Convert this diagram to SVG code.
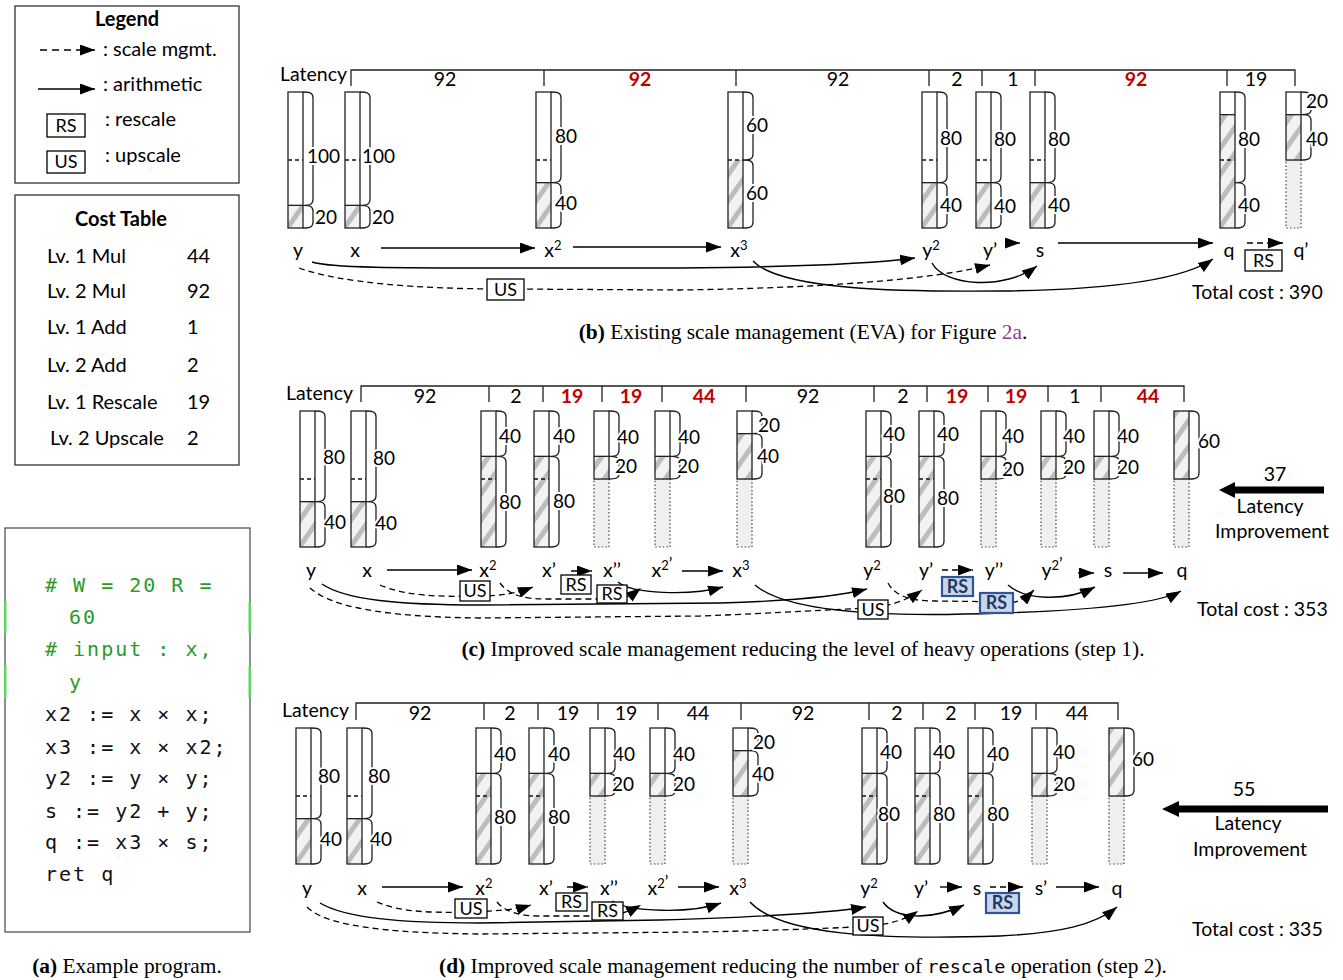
<svg xmlns="http://www.w3.org/2000/svg" xmlns:xlink="http://www.w3.org/1999/xlink" width="1343" height="980" viewBox="0 0 1343 980">
<style>
.t{font-family:Lato,'Open Sans','Liberation Sans',sans-serif;font-size:19.5px;fill:#000}
.lg{font-size:20px}
.n{font-family:Lato,'Open Sans','Liberation Sans',sans-serif;font-size:19px;fill:#000;stroke:#fff;stroke-width:4px;paint-order:stroke;stroke-linejoin:round}
.red{fill:#c00000;font-weight:bold}
.b{font-weight:bold}
.cap{font-family:'Liberation Serif','DejaVu Serif',serif;font-size:21.4px;fill:#000}
.mono{font-family:'DejaVu Sans Mono','Liberation Mono',monospace;font-size:20px;letter-spacing:2px;fill:#111}
.grn{fill:#2a9a2a}
.frame{fill:#fff;stroke:#333;stroke-width:1.3}
.ol{fill:none;stroke:#222;stroke-width:1.3}
.dl{fill:none;stroke:#111;stroke-width:1.3;stroke-dasharray:4 3}
.gr{fill:#efefef;stroke:#444;stroke-width:1.2;stroke-dasharray:1.5 2.2}
.br{fill:none;stroke:#222;stroke-width:1.3}
.ru{fill:none;stroke:#222;stroke-width:1.3}
.sol{fill:none;stroke:#000;stroke-width:1.4}
.dsh{fill:none;stroke:#000;stroke-width:1.3;stroke-dasharray:6 4}
.bx{fill:#fff;stroke:#000;stroke-width:1.3}
.bxb{fill:#c9d6ea;stroke:#2f5597;stroke-width:2.2}
.bt{font-family:Lato,'Open Sans','Liberation Sans',sans-serif;font-size:18px;fill:#000;text-anchor:middle}
.btb{font-family:Lato,'Open Sans','Liberation Sans',sans-serif;font-size:18px;fill:#1f3864;font-weight:bold;text-anchor:middle}
.mid{text-anchor:middle}
</style>
<defs>
<pattern id="hatch" patternUnits="userSpaceOnUse" width="15" height="15" patternTransform="rotate(35)">
<rect width="15" height="15" fill="#f2f2f2"/>
<rect width="5" height="15" fill="#bdbdbd"/>
</pattern>
<marker id="ah" viewBox="0 0 15 11" refX="15" refY="5.5" markerWidth="15" markerHeight="11" markerUnits="userSpaceOnUse" orient="auto">
<path d="M0,0 L15,5.5 L0,11 z" fill="#000"/>
</marker>
<g id="sA">
<rect x="0" y="113.33" width="15" height="22.67" fill="url(#hatch)"/>
<line x1="0" y1="68" x2="15" y2="68" class="dl"/>
<rect x="0" y="0" width="15" height="136" class="ol"/>
<line x1="0" y1="113.33" x2="15" y2="113.33" class="ol"/>
<path class="br" d="M15,0 C22,0 25,1 25,6 V107.33 C25,112.33 22,113.33 15,113.33 C22,113.33 25,114.33 25,119.33 V130 C25,135 22,136 15,136"/>
</g>
<g id="sB">
<rect x="0" y="90.67" width="15" height="45.33" fill="url(#hatch)"/>
<line x1="0" y1="68" x2="15" y2="68" class="dl"/>
<rect x="0" y="0" width="15" height="136" class="ol"/>
<line x1="0" y1="90.67" x2="15" y2="90.67" class="ol"/>
<path class="br" d="M15,0 C22,0 25,1 25,6 V84.67 C25,89.67 22,90.67 15,90.67 C22,90.67 25,91.67 25,96.67 V130 C25,135 22,136 15,136"/>
</g>
<g id="sC">
<rect x="0" y="68" width="15" height="68" fill="url(#hatch)"/>
<rect x="0" y="0" width="15" height="136" class="ol"/>
<line x1="0" y1="68" x2="15" y2="68" class="dl"/>
<path class="br" d="M15,0 C22,0 25,1 25,6 V62 C25,67 22,68 15,68 C22,68 25,69 25,74 V130 C25,135 22,136 15,136"/>
</g>
<g id="sD">
<rect x="0" y="22.67" width="15" height="113.33" fill="url(#hatch)"/>
<line x1="0" y1="68" x2="15" y2="68" class="dl"/>
<rect x="0" y="0" width="15" height="136" class="ol"/>
<line x1="0" y1="22.67" x2="15" y2="22.67" class="ol"/>
<path class="br" d="M15,0 C22,0 25,1 25,6 V84.67 C25,89.67 22,90.67 15,90.67 C22,90.67 25,91.67 25,96.67 V130 C25,135 22,136 15,136"/>
</g>
<g id="sE">
<rect x="0" y="68" width="15" height="68" class="gr"/>
<rect x="0" y="22.67" width="15" height="45.33" fill="url(#hatch)"/>
<rect x="0" y="0" width="15" height="68" class="ol"/>
<line x1="0" y1="22.67" x2="15" y2="22.67" class="ol"/>
<path class="br" d="M15,0 C22,0 25,1 25,5 V17.67 C25,21.67 22,22.67 15,22.67 C22,22.67 25,23.67 25,28.67 V62 C25,67 22,68 15,68"/>
</g>
<g id="sG">
<rect x="0" y="45.33" width="15" height="90.67" fill="url(#hatch)"/>
<line x1="0" y1="68" x2="15" y2="68" class="dl"/>
<rect x="0" y="0" width="15" height="136" class="ol"/>
<line x1="0" y1="45.33" x2="15" y2="45.33" class="ol"/>
<path class="br" d="M15,0 C22,0 25,1 25,6 V39.33 C25,44.33 22,45.33 15,45.33 C22,45.33 25,46.33 25,51.33 V130 C25,135 22,136 15,136"/>
</g>
<g id="sH">
<rect x="0" y="68" width="15" height="68" class="gr"/>
<rect x="0" y="45.33" width="15" height="22.67" fill="url(#hatch)"/>
<rect x="0" y="0" width="15" height="68" class="ol"/>
<line x1="0" y1="45.33" x2="15" y2="45.33" class="ol"/>
<path class="br" d="M15,0 C22,0 25,1 25,6 V39.33 C25,44.33 22,45.33 15,45.33 C22,45.33 25,46.33 25,50.33 V63 C25,67 22,68 15,68"/>
</g>
<g id="sJ">
<rect x="0" y="68" width="15" height="68" class="gr"/>
<rect x="0" y="0" width="15" height="68" fill="url(#hatch)"/>
<rect x="0" y="0" width="15" height="68" class="ol"/>
<path class="br" d="M15,0 C22,0 25,1 25,6 V62 C25,67 22,68 15,68"/>
</g>
</defs>
<rect width="1343" height="980" fill="#fff"/>

<!-- Legend -->
<g id="legend">
<rect class="frame" x="15" y="6" width="224" height="177"/>
<text class="t lg b mid" x="127" y="26">Legend</text>
<line class="dsh" x1="40" y1="50" x2="95" y2="50" marker-end="url(#ah)" style="stroke-dasharray:7 5"/>
<text class="t lg" x="103" y="56">: scale mgmt.</text>
<line class="sol" x1="38" y1="89" x2="95" y2="89" marker-end="url(#ah)"/>
<text class="t lg" x="103" y="91">: arithmetic</text>
<rect class="bx" x="47" y="114" width="38" height="23"/>
<text class="bt" x="66" y="132">RS</text>
<text class="t lg" x="105" y="126">: rescale</text>
<rect class="bx" x="47" y="151" width="38" height="22"/>
<text class="bt" x="66" y="168">US</text>
<text class="t lg" x="105" y="162">: upscale</text>
</g>

<!-- Cost table -->
<g id="cost-table">
<rect class="frame" x="15" y="195" width="224" height="270"/>
<text class="t lg b mid" x="121" y="226">Cost Table</text>
<text class="t lg" x="47" y="263">Lv. 1 Mul</text><text class="t lg" x="187" y="263">44</text>
<text class="t lg" x="47" y="298">Lv. 2 Mul</text><text class="t lg" x="187" y="298">92</text>
<text class="t lg" x="47" y="334">Lv. 1 Add</text><text class="t lg" x="187" y="334">1</text>
<text class="t lg" x="47" y="372">Lv. 2 Add</text><text class="t lg" x="187" y="372">2</text>
<text class="t lg" x="47" y="409">Lv. 1 Rescale</text><text class="t lg" x="187" y="409">19</text>
<text class="t lg" x="50" y="445">Lv. 2 Upscale</text><text class="t lg" x="187" y="445">2</text>
</g>

<!-- Code -->
<g id="code">
<rect class="frame" x="5" y="528" width="245" height="404" style="stroke:#555"/>
<rect x="4" y="602" width="2.5" height="31" fill="#5cd65c"/>
<rect x="248.5" y="602" width="2.5" height="31" fill="#5cd65c"/>
<rect x="4" y="666" width="2.5" height="32" fill="#5cd65c"/>
<rect x="248.5" y="666" width="2.5" height="32" fill="#5cd65c"/>
<text class="mono grn" x="45" y="592">#&#160;W&#160;=&#160;20&#160;R&#160;=</text>
<text class="mono grn" x="69" y="624">60</text>
<text class="mono grn" x="45" y="656">#&#160;input&#160;:&#160;x,</text>
<text class="mono grn" x="69" y="689">y</text>
<text class="mono" x="45" y="721">x2&#160;:=&#160;x&#160;×&#160;x;</text>
<text class="mono" x="45" y="754">x3&#160;:=&#160;x&#160;×&#160;x2;</text>
<text class="mono" x="45" y="785">y2&#160;:=&#160;y&#160;×&#160;y;</text>
<text class="mono" x="45" y="818">s&#160;:=&#160;y2&#160;+&#160;y;</text>
<text class="mono" x="45" y="849">q&#160;:=&#160;x3&#160;×&#160;s;</text>
<text class="mono" x="45" y="881">ret&#160;q</text>
<text class="cap mid" x="127" y="973"><tspan font-weight="bold">(a)</tspan> Example program.</text>
</g>

<!-- Panel b -->
<g id="panel-b">
<g id="b-ruler">
<text class="t" x="280" y="81">Latency</text>
<path class="ru" d="M351,86 V70 H1295 V86 M544,70 V86 M736,70 V86 M929,70 V86 M982,70 V86 M1035,70 V86 M1227,70 V86"/>
<text class="t mid" x="445" y="86">92</text>
<text class="t mid red" x="640" y="86">92</text>
<text class="t mid" x="838" y="86">92</text>
<text class="t mid" x="957" y="86">2</text>
<text class="t mid" x="1013" y="86">1</text>
<text class="t mid red" x="1136" y="86">92</text>
<text class="t mid" x="1256" y="86">19</text>
</g>
<g id="b-y"><use href="#sA" x="288" y="92"/><text class="n" x="307" y="163">100</text><text class="n" x="315" y="224">20</text><text class="t mid" x="298" y="257">y</text></g>
<g id="b-x"><use href="#sA" x="345" y="92"/><text class="n" x="362" y="163">100</text><text class="n" x="372" y="224">20</text><text class="t mid" x="355" y="257">x</text></g>
<g id="b-x2"><use href="#sB" x="536" y="92"/><text class="n" x="555" y="143">80</text><text class="n" x="555" y="210">40</text><text class="t mid" x="553" y="257">x<tspan dy="-7" font-size="13">2</tspan></text></g>
<g id="b-x3"><use href="#sC" x="728" y="92"/><text class="n" x="746" y="132">60</text><text class="n" x="746" y="200">60</text><text class="t mid" x="739" y="257">x<tspan dy="-7" font-size="13">3</tspan></text></g>
<g id="b-y2"><use href="#sB" x="922" y="92"/><text class="n" x="940" y="145">80</text><text class="n" x="940" y="212">40</text><text class="t mid" x="931" y="257">y<tspan dy="-7" font-size="13">2</tspan></text></g>
<g id="b-y1"><use href="#sB" x="976" y="92"/><text class="n" x="994" y="146">80</text><text class="n" x="994" y="213">40</text><text class="t mid" x="990" y="257">y’</text></g>
<g id="b-s"><use href="#sB" x="1030" y="92"/><text class="n" x="1048" y="146">80</text><text class="n" x="1048" y="212">40</text><text class="t mid" x="1040" y="257">s</text></g>
<g id="b-q"><use href="#sD" x="1220" y="92"/><text class="n" x="1238" y="146">80</text><text class="n" x="1238" y="212">40</text><text class="t mid" x="1229" y="257">q</text></g>
<g id="b-q1"><use href="#sE" x="1286" y="92"/><text class="n" x="1306" y="108">20</text><text class="n" x="1306" y="146">40</text><text class="t mid" x="1301" y="257">q’</text></g>
<g id="b-connectors">
<path class="sol" d="M381,248 H535" marker-end="url(#ah)"/>
<path class="sol" d="M573,247 H721" marker-end="url(#ah)"/>
<path class="sol" d="M1005,243 H1020" marker-end="url(#ah)"/>
<path class="sol" d="M1058,243 H1213" marker-end="url(#ah)"/>
<path class="dsh" d="M1247,243 H1283" marker-end="url(#ah)"/>
<path class="sol" d="M312,262 C330,268 400,268 500,268 L680,268 C800,267 870,264 915,258" marker-end="url(#ah)"/>
<path class="dsh" d="M299,268 C340,283 420,289 505,289 L680,290 C820,288 930,280 990,265" marker-end="url(#ah)"/>
<path class="sol" d="M932,263 C945,287 1005,290 1037,266" marker-end="url(#ah)"/>
<path class="sol" d="M753,261 C780,290 900,292 1000,291 C1100,290 1180,282 1213,259" marker-end="url(#ah)"/>
<rect class="bx" x="487" y="279" width="37" height="21"/><text class="bt" x="505.5" y="296">US</text>
<rect class="bx" x="1245" y="250" width="37" height="21"/><text class="bt" x="1263.5" y="267">RS</text>
</g>
<text class="t" x="1192" y="299">Total cost : 390</text>
<text class="cap mid" x="803" y="339"><tspan font-weight="bold">(b)</tspan> Existing scale management (EVA) for Figure <tspan fill="#8e3a9d">2a</tspan>.</text>
</g>

<!-- Panel c -->
<g id="panel-c">
<g id="c-ruler">
<text class="t" x="286" y="400">Latency</text>
<path class="ru" d="M361,402 V386 H1184 V402 M489,386 V402 M543,386 V402 M602,386 V402 M662,386 V402 M746,386 V402 M874,386 V402 M927,386 V402 M988,386 V402 M1048,386 V402 M1101,386 V402"/>
<text class="t mid" x="425" y="403">92</text>
<text class="t mid" x="516" y="403">2</text>
<text class="t mid red" x="572" y="403">19</text>
<text class="t mid red" x="631" y="403">19</text>
<text class="t mid red" x="704" y="403">44</text>
<text class="t mid" x="808" y="403">92</text>
<text class="t mid" x="903" y="403">2</text>
<text class="t mid red" x="957" y="403">19</text>
<text class="t mid red" x="1016" y="403">19</text>
<text class="t mid" x="1075" y="403">1</text>
<text class="t mid red" x="1148" y="403">44</text>
</g>
<g id="c-y"><use href="#sB" x="300" y="411"/><text class="n" x="323" y="464">80</text><text class="n" x="324" y="529">40</text><text class="t mid" x="311" y="577">y</text></g>
<g id="c-x"><use href="#sB" x="351" y="411"/><text class="n" x="373" y="465">80</text><text class="n" x="375" y="530">40</text><text class="t mid" x="367" y="577">x</text></g>
<g id="c-x2"><use href="#sG" x="481" y="411"/><text class="n" x="499" y="443">40</text><text class="n" x="499" y="509">80</text><text class="t mid" x="488" y="577">x<tspan dy="-7" font-size="13">2</tspan></text></g>
<g id="c-x1"><use href="#sG" x="534" y="411"/><text class="n" x="553" y="443">40</text><text class="n" x="553" y="508">80</text><text class="t mid" x="549" y="577">x’</text></g>
<g id="c-x11"><use href="#sH" x="594" y="411"/><text class="n" x="617" y="444">40</text><text class="n" x="615" y="473">20</text><text class="t mid" x="612" y="577">x’’</text></g>
<g id="c-x21"><use href="#sH" x="655" y="411"/><text class="n" x="678" y="444">40</text><text class="n" x="677" y="473">20</text><text class="t mid" x="662" y="577">x<tspan dy="-7" font-size="13">2</tspan><tspan font-size="17">’</tspan></text></g>
<g id="c-x3"><use href="#sE" x="737" y="411"/><text class="n" x="758" y="432">20</text><text class="n" x="757" y="463">40</text><text class="t mid" x="741" y="577">x<tspan dy="-7" font-size="13">3</tspan></text></g>
<g id="c-y2"><use href="#sG" x="866" y="411"/><text class="n" x="883" y="441">40</text><text class="n" x="883" y="503">80</text><text class="t mid" x="872" y="577">y<tspan dy="-7" font-size="13">2</tspan></text></g>
<g id="c-y1"><use href="#sG" x="919" y="411"/><text class="n" x="937" y="441">40</text><text class="n" x="937" y="505">80</text><text class="t mid" x="926" y="577">y’</text></g>
<g id="c-y11"><use href="#sH" x="981" y="411"/><text class="n" x="1002" y="443">40</text><text class="n" x="1002" y="476">20</text><text class="t mid" x="994" y="577">y’’</text></g>
<g id="c-y21"><use href="#sH" x="1041" y="411"/><text class="n" x="1063" y="443">40</text><text class="n" x="1063" y="474">20</text><text class="t mid" x="1052" y="577">y<tspan dy="-7" font-size="13">2</tspan><tspan font-size="17">’</tspan></text></g>
<g id="c-s"><use href="#sH" x="1094" y="411"/><text class="n" x="1117" y="443">40</text><text class="n" x="1117" y="474">20</text><text class="t mid" x="1108" y="577">s</text></g>
<g id="c-q"><use href="#sJ" x="1174" y="411"/><text class="n" x="1198" y="448">60</text><text class="t mid" x="1182" y="577">q</text></g>
<g id="c-connectors">
<path class="sol" d="M387,570 H472" marker-end="url(#ah)"/>
<path class="dsh" d="M571,571 H592" marker-end="url(#ah)"/>
<path class="sol" d="M682,571 H723" marker-end="url(#ah)"/>
<path class="dsh" d="M942,570 H973" marker-end="url(#ah)"/>
<path class="sol" d="M1078,573 H1094" marker-end="url(#ah)"/>
<path class="sol" d="M1123,573 H1163" marker-end="url(#ah)"/>
<path class="dsh" d="M380,585 C405,596 440,597 475,596 C500,596 515,594 533,587" marker-end="url(#ah)"/>
<path class="dsh" d="M500,583 C508,594 522,599 545,599 L612,599 C625,599 632,595 641,588" marker-end="url(#ah)"/>
<path class="sol" d="M618,582 C632,594 690,596 723,587" marker-end="url(#ah)"/>
<path class="sol" d="M322,584 C345,600 400,605 480,605 L720,603 C790,601 840,596 867,589" marker-end="url(#ah)"/>
<path class="dsh" d="M310,588 C330,606 380,617 480,618 L700,616 C780,613 840,609 870,608 C890,606 908,600 922,590" marker-end="url(#ah)"/>
<path class="dsh" d="M888,583 C895,596 910,601 935,601 L1015,602 C1022,600 1028,596 1034,590" marker-end="url(#ah)"/>
<path class="sol" d="M1008,585 C1025,600 1065,602 1095,587" marker-end="url(#ah)"/>
<path class="sol" d="M755,585 C790,615 900,617 1000,613 C1100,610 1160,603 1181,591" marker-end="url(#ah)"/>
<rect class="bx" x="460" y="581" width="30" height="20"/><text class="bt" x="475" y="597">US</text>
<rect class="bx" x="561" y="575" width="30" height="19"/><text class="bt" x="576" y="591">RS</text>
<rect class="bx" x="597" y="585" width="30" height="18"/><text class="bt" x="612" y="600">RS</text>
<rect class="bx" x="858" y="600" width="30" height="19"/><text class="bt" x="873" y="616">US</text>
<rect class="bxb" x="942" y="577" width="31" height="19"/><text class="btb" x="957.5" y="593">RS</text>
<rect class="bxb" x="980" y="593" width="33" height="20"/><text class="btb" x="996.5" y="609">RS</text>
</g>
<g id="c-improvement">
<line x1="1324" y1="490" x2="1232" y2="490" stroke="#000" stroke-width="7"/>
<path d="M1219,490 L1235,482 L1235,498 z" fill="#000"/>
<text class="t mid" x="1275" y="481">37</text>
<text class="t mid" x="1270" y="513">Latency</text>
<text class="t mid" x="1272" y="538">Improvement</text>
</g>
<text class="t" x="1197" y="616">Total cost : 353</text>
<text class="cap mid" x="803" y="656"><tspan font-weight="bold">(c)</tspan> Improved scale management reducing the level of heavy operations (step 1).</text>
</g>

<!-- Panel d -->
<g id="panel-d">
<g id="d-ruler">
<text class="t" x="282" y="717">Latency</text>
<path class="ru" d="M356,720 V703 H1118 V720 M484,703 V720 M538,703 V720 M598,703 V720 M658,703 V720 M741,703 V720 M869,703 V720 M923,703 V720 M975,703 V720 M1036,703 V720"/>
<text class="t mid" x="420" y="720">92</text>
<text class="t mid" x="510" y="720">2</text>
<text class="t mid" x="568" y="720">19</text>
<text class="t mid" x="626" y="720">19</text>
<text class="t mid" x="698" y="720">44</text>
<text class="t mid" x="803" y="720">92</text>
<text class="t mid" x="897" y="720">2</text>
<text class="t mid" x="951" y="720">2</text>
<text class="t mid" x="1011" y="720">19</text>
<text class="t mid" x="1077" y="720">44</text>
</g>
<g id="d-y"><use href="#sB" x="296" y="728"/><text class="n" x="318" y="783">80</text><text class="n" x="320" y="846">40</text><text class="t mid" x="307" y="895">y</text></g>
<g id="d-x"><use href="#sB" x="347" y="728"/><text class="n" x="368" y="783">80</text><text class="n" x="370" y="846">40</text><text class="t mid" x="362" y="895">x</text></g>
<g id="d-x2"><use href="#sG" x="476" y="728"/><text class="n" x="494" y="761">40</text><text class="n" x="494" y="824">80</text><text class="t mid" x="484" y="895">x<tspan dy="-7" font-size="13">2</tspan></text></g>
<g id="d-x1"><use href="#sG" x="529" y="728"/><text class="n" x="548" y="761">40</text><text class="n" x="548" y="824">80</text><text class="t mid" x="546" y="895">x’</text></g>
<g id="d-x11"><use href="#sH" x="590" y="728"/><text class="n" x="613" y="761">40</text><text class="n" x="612" y="791">20</text><text class="t mid" x="609" y="895">x’’</text></g>
<g id="d-x21"><use href="#sH" x="650" y="728"/><text class="n" x="673" y="761">40</text><text class="n" x="673" y="791">20</text><text class="t mid" x="658" y="895">x<tspan dy="-7" font-size="13">2</tspan><tspan font-size="17">’</tspan></text></g>
<g id="d-x3"><use href="#sE" x="733" y="728"/><text class="n" x="753" y="749">20</text><text class="n" x="752" y="781">40</text><text class="t mid" x="738" y="895">x<tspan dy="-7" font-size="13">3</tspan></text></g>
<g id="d-y2"><use href="#sG" x="862" y="728"/><text class="n" x="880" y="759">40</text><text class="n" x="878" y="821">80</text><text class="t mid" x="869" y="895">y<tspan dy="-7" font-size="13">2</tspan></text></g>
<g id="d-y1"><use href="#sG" x="915" y="728"/><text class="n" x="933" y="759">40</text><text class="n" x="933" y="821">80</text><text class="t mid" x="921" y="895">y’</text></g>
<g id="d-s"><use href="#sG" x="968" y="728"/><text class="n" x="987" y="761">40</text><text class="n" x="987" y="821">80</text><text class="t mid" x="977" y="895">s</text></g>
<g id="d-s1"><use href="#sH" x="1032" y="728"/><text class="n" x="1053" y="759">40</text><text class="n" x="1053" y="791">20</text><text class="t mid" x="1041" y="895">s’</text></g>
<g id="d-q"><use href="#sJ" x="1109" y="728"/><text class="n" x="1132" y="766">60</text><text class="t mid" x="1117" y="895">q</text></g>
<g id="d-connectors">
<path class="sol" d="M382,887 H463" marker-end="url(#ah)"/>
<path class="dsh" d="M567,887 H588" marker-end="url(#ah)"/>
<path class="sol" d="M678,887 H719" marker-end="url(#ah)"/>
<path class="sol" d="M940,887 H962" marker-end="url(#ah)"/>
<path class="dsh" d="M990,887 H1023" marker-end="url(#ah)"/>
<path class="sol" d="M1056,887 H1099" marker-end="url(#ah)"/>
<path class="dsh" d="M377,902 C400,912 430,913 470,912 C495,911 515,910 531,905" marker-end="url(#ah)"/>
<path class="dsh" d="M497,902 C505,912 520,916 540,916 L608,916 C620,915 630,911 641,905" marker-end="url(#ah)"/>
<path class="sol" d="M612,901 C630,912 690,914 721,903" marker-end="url(#ah)"/>
<path class="sol" d="M320,903 C345,918 400,923 480,923 L660,920 C760,917 830,913 866,907" marker-end="url(#ah)"/>
<path class="dsh" d="M307,907 C325,925 380,933 480,934 L700,932 C790,930 840,928 870,926 C890,924 905,920 918,911" marker-end="url(#ah)"/>
<path class="sol" d="M883,902 C895,919 930,921 964,905" marker-end="url(#ah)"/>
<path class="sol" d="M750,902 C780,935 880,940 1000,936 C1060,933 1095,925 1117,907" marker-end="url(#ah)"/>
<rect class="bx" x="455" y="899" width="32" height="19"/><text class="bt" x="471" y="915">US</text>
<rect class="bx" x="556" y="893" width="31" height="18"/><text class="bt" x="571.5" y="908">RS</text>
<rect class="bx" x="592" y="902" width="31" height="18"/><text class="bt" x="607.5" y="917">RS</text>
<rect class="bx" x="853" y="917" width="30" height="18"/><text class="bt" x="868" y="932">US</text>
<rect class="bxb" x="986" y="893" width="33" height="20"/><text class="btb" x="1002.5" y="909">RS</text>
</g>
<g id="d-improvement">
<line x1="1328" y1="809" x2="1176" y2="809" stroke="#000" stroke-width="7"/>
<path d="M1162,809 L1179,801 L1179,817 z" fill="#000"/>
<text class="t mid" x="1244" y="796">55</text>
<text class="t mid" x="1248" y="830">Latency</text>
<text class="t mid" x="1250" y="856">Improvement</text>
</g>
<text class="t" x="1192" y="936">Total cost : 335</text>
<text class="cap mid" x="803" y="973"><tspan font-weight="bold">(d)</tspan> Improved scale management reducing the number of <tspan font-family="'DejaVu Sans Mono','Liberation Mono',monospace" font-size="18.5">rescale</tspan> operation (step 2).</text>
</g>
</svg>
